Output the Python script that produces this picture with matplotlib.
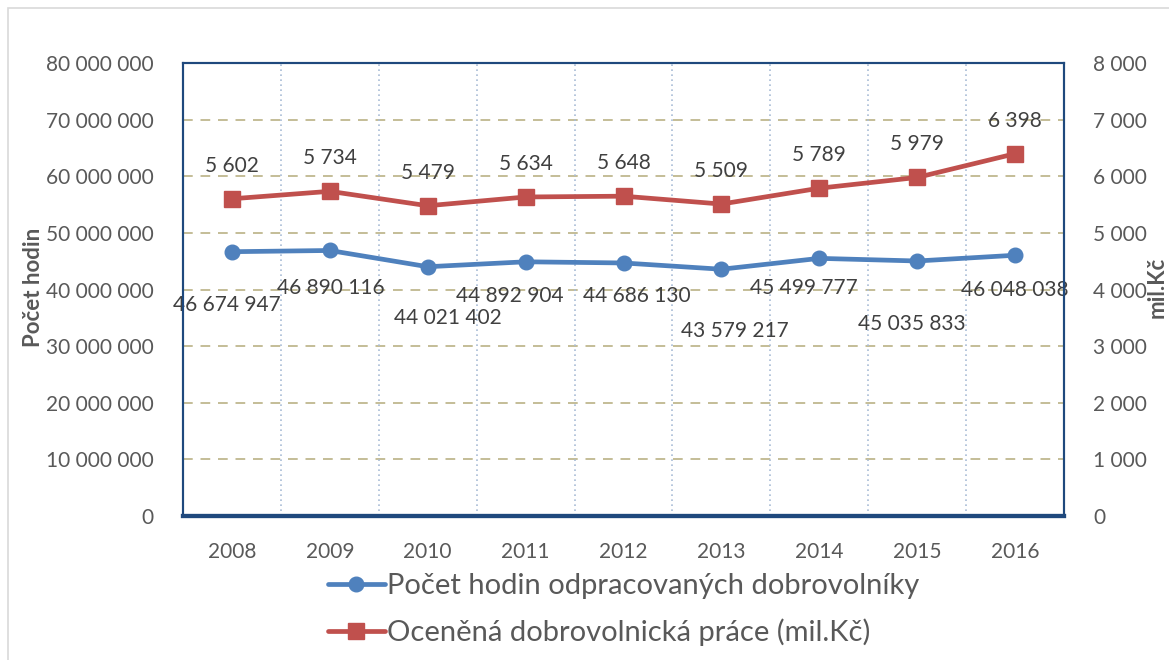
import matplotlib
matplotlib.use("Agg")
import matplotlib.pyplot as plt
from matplotlib.patches import Rectangle
from matplotlib.ticker import FuncFormatter, MultipleLocator

years = ["2008", "2009", "2010", "2011", "2012", "2013", "2014", "2015", "2016"]
hours = [46674947, 46890116, 44021402, 44892904, 44686130, 43579217, 45499777, 45035833, 46048038]
value_mil = [5602, 5734, 5479, 5634, 5648, 5509, 5789, 5979, 6398]
label_hours = "Počet hodin odpracovaných dobrovolníky"
label_value = "Oceněná dobrovolnická práce (mil.Kč)"

# label offsets for blue data labels (pixels)
blue_dx = [-5, 1, 20, -16, 13, 13, -15, -5, 0]
blue_dy = [-53, -38, -51, -34, -33, -62, -30, -63, -35]

FONT = "Lato"
plt.rcParams["font.family"] = [FONT, "DejaVu Sans"]
TXT = "#595959"
LBL = "#404040"
BLUE = "#4F81BD"
RED = "#C0504D"
FRAME = "#1F497D"

fig = plt.figure(figsize=(11.69, 6.60), dpi=100)
W, H = 1169, 660
ax = fig.add_axes([183 / W, 1 - 516 / H, (1064 - 183) / W, (516 - 63) / H])
ax2 = ax.twinx()

fig.patches.append(Rectangle((8 / W, -0.01), 1.2, 1 - 8 / H + 0.01, transform=fig.transFigure,
                             fill=False, edgecolor="#D9D9D9", linewidth=1.2))

x = list(range(len(years)))

ax.set_xlim(-0.5, len(years) - 0.5)
ax.set_ylim(0, 80000000)
ax2.set_ylim(0, 8000)
ax.yaxis.set_major_locator(MultipleLocator(10000000))
ax2.yaxis.set_major_locator(MultipleLocator(1000))

fmt = FuncFormatter(lambda v, p: f"{int(v):,}".replace(",", " "))
ax.yaxis.set_major_formatter(fmt)
ax2.yaxis.set_major_formatter(fmt)
ax.set_xticks(x)
ax.set_xticklabels(years)

for v in range(1, 8):
    ax.axhline(v * 10000000, color="#C4BD97", linestyle=(0, (5, 4)), linewidth=1.4, zorder=0)
for b in range(len(years) - 1):
    ax.axvline(b + 0.5, color="#A9BCD6", linestyle=(0, (1, 2)), linewidth=1.2, zorder=0)

FS = 15
ax.tick_params(axis="both", length=0, labelsize=FS, colors=TXT)
ax.tick_params(axis="y", pad=21)
ax.tick_params(axis="x", pad=19)
ax2.tick_params(axis="y", length=0, labelsize=FS, colors=TXT, pad=21)

for a in (ax, ax2):
    for s in a.spines.values():
        s.set_color(FRAME)
        s.set_linewidth(1.5)
    a.spines["bottom"].set_linewidth(3)

l1, = ax.plot(x, hours, color=BLUE, linewidth=3.4, marker="o", markersize=10.5, zorder=3,
              solid_capstyle="round", label=label_hours)
l2, = ax2.plot(x, value_mil, color=RED, linewidth=3.4, marker="s", markersize=11.5, zorder=3,
               solid_capstyle="round", label=label_value)

for i, v in enumerate(hours):
    ax.annotate(f"{v:,}".replace(",", " "), (x[i], v), xytext=(blue_dx[i], blue_dy[i]),
                textcoords="offset pixels", ha="center", va="center", fontsize=FS, color=LBL)
for i, v in enumerate(value_mil):
    ax2.annotate(f"{v:,}".replace(",", " "), (x[i], v), xytext=(0, 33),
                 textcoords="offset pixels", ha="center", va="center", fontsize=FS, color=LBL)

fig.text(33 / W, 1 - 287 / H, "Počet hodin", rotation=90, ha="center", va="center",
         fontsize=16, fontweight="bold", color=TXT)
fig.text(1157 / W, 1 - 287 / H, "mil.Kč", rotation=90, ha="center", va="center",
         fontsize=16, fontweight="bold", color=TXT)

leg = fig.legend(handles=[l1, l2], loc="upper left", bbox_to_anchor=(328 / W, 1 - 573 / H),
                 ncol=1, frameon=False, fontsize=21, labelcolor=TXT, handlelength=1.95,
                 handletextpad=0.08, labelspacing=0.68, borderaxespad=0, borderpad=0)

fig.savefig("out.png", dpi=100)
